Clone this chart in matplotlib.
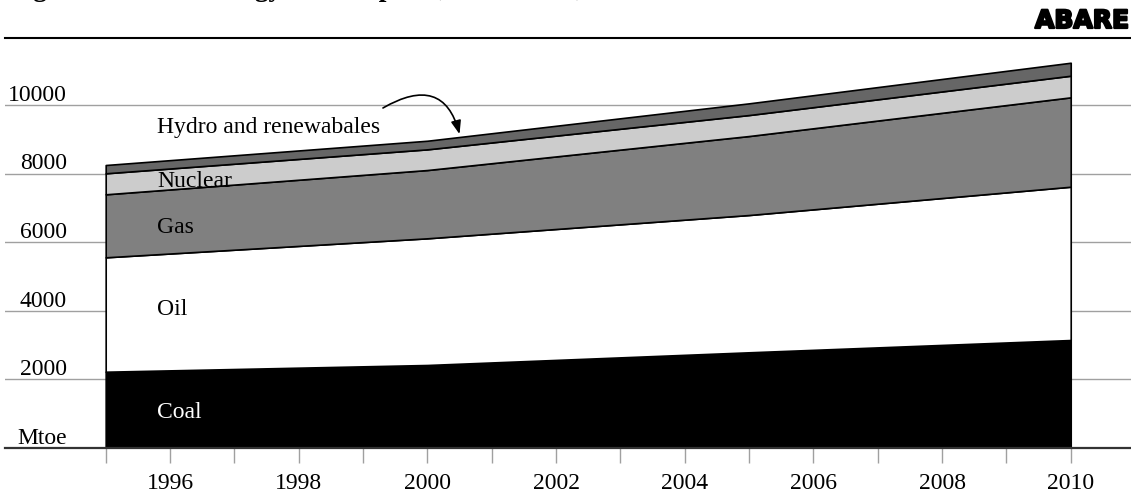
import matplotlib
matplotlib.use("Agg")
import matplotlib.pyplot as plt
import matplotlib.patheffects as pe

# ---- data (Mtoe) ----
years = [1995, 2000, 2005, 2010]
coal = [2224, 2420, 2790, 3148]
oil = [3335, 3693, 4002, 4469]
gas = [1837, 1991, 2303, 2606]
nuclear = [612, 603, 612, 630]
hydro = [242, 251, 341, 379]

series_names = ["Coal", "Oil", "Gas", "Nuclear", "Hydro and renewabales"]
series_colors = ["#000000", "#ffffff", "#808080", "#cccccc", "#666666"]

ytick_values = [2000, 4000, 6000, 8000, 10000]
xtick_years = list(range(1995, 2011))
xtick_labels = [str(y) if y % 2 == 0 else "" for y in xtick_years]

title = "Figure 1: World energy consumption, 1995\u20132010, Mtoe"
unit_label = "Mtoe"
logo = "ABARE"

SERIF = ["Liberation Serif", "DejaVu Serif"]
W, H = 1131, 498
fig = plt.figure(figsize=(W / 100, H / 100), dpi=100)
ax = fig.add_axes([5 / W, 50 / H, 1126 / W, 410 / H])

ax.set_xlim(1993.435, 2010.937)
ax.set_ylim(0, 11953)

# gridlines behind
for v in ytick_values:
    ax.axhline(v, color="#a0a0a0", lw=1.0, zorder=0)

ax.stackplot(years, coal, oil, gas, nuclear, hydro,
             colors=series_colors, edgecolor="black", linewidth=1.2, zorder=2)

# spines
for s in ["left", "right"]:
    ax.spines[s].set_visible(False)
ax.spines["top"].set_color("black")
ax.spines["top"].set_linewidth(1.5)
ax.spines["bottom"].set_color("#333333")
ax.spines["bottom"].set_linewidth(1.6)
ax.spines["bottom"].set_zorder(3)

ax.set_yticks([])
ax.set_xticks(xtick_years)
ax.set_xticklabels(xtick_labels, fontfamily=SERIF, fontsize=17)
ax.tick_params(axis="x", length=11, width=1, color="#a0a0a0", pad=7)

# y labels
for v in ytick_values:
    ax.annotate(f"{v}", xy=(1994.4, v), xytext=(0, 3), textcoords="offset points",
                ha="right", va="baseline", fontsize=17, fontfamily=SERIF)
ax.annotate(unit_label, xy=(1994.4, 0), xytext=(0, 3), textcoords="offset points",
            ha="right", va="baseline", fontsize=17, fontfamily=SERIF)

# layer labels
label_x = 1995.8
label_y = [866, 3863, 6277, 7601, 9193]
label_colors = ["white", "black", "black", "black", "black"]
for name, yv, c in zip(series_names, label_y, label_colors):
    ax.text(label_x, yv, name, ha="left", va="baseline", fontsize=17,
            fontfamily=SERIF, color=c, zorder=5)

# curved arrow
ax.annotate("", xy=(2000.5, 9150), xytext=(1999.31, 9913),
            arrowprops=dict(arrowstyle="-|>,head_length=0.8,head_width=0.3",
                            connectionstyle="angle3,angleA=30,angleB=105",
                            color="black", lw=1.2, shrinkA=0, shrinkB=0,
                            mutation_scale=10),
            zorder=6)

# title (cropped at the top as in the reference) and logo
fig.text(8.6 / W, 1 + 4 / H, title, ha="left", va="baseline",
         fontsize=19.7, fontweight="bold", fontfamily=SERIF)
fig.text(1129 / W, (H - 28) / H, logo, ha="right", va="baseline",
         fontsize=18, fontweight="heavy", fontfamily=["DejaVu Sans"],
         path_effects=[pe.withStroke(linewidth=1.6, foreground="black")])

fig.savefig("out.png", dpi=100)
